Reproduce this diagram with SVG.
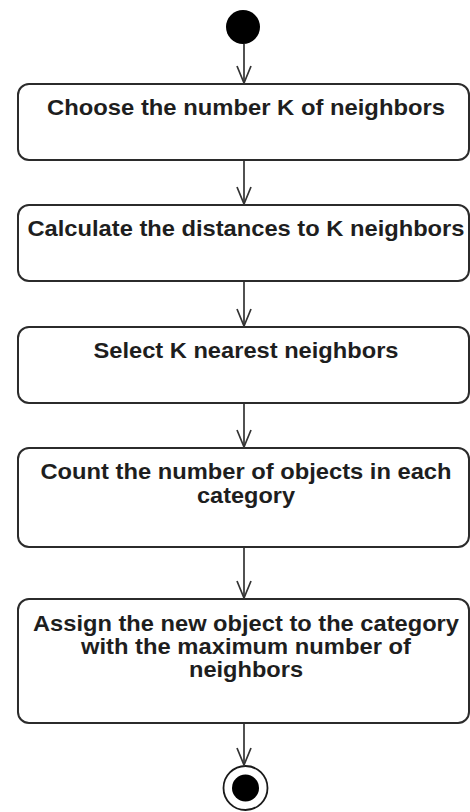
<svg xmlns="http://www.w3.org/2000/svg" width="470" height="812" viewBox="0 0 470 812">
  <style>
    .box { fill: #ffffff; stroke: #2b2b2b; stroke-width: 2; }
    .lbl { font-family: "Liberation Sans", Arial, sans-serif; font-weight: bold; font-size: 22px; fill: #1e1e1e; text-anchor: middle; }
    .flow { fill: none; stroke: #333333; stroke-width: 1.7; marker-end: url(#open); }
  </style>
  <defs>
    <marker id="open" viewBox="0 0 20 16" markerWidth="20" markerHeight="16" refX="18" refY="8" orient="auto" markerUnits="userSpaceOnUse">
      <path d="M1,1 L18,8 L1,15" fill="none" stroke="#333333" stroke-width="1.7"/>
    </marker>
  </defs>

  <rect width="470" height="812" fill="#ffffff"/>

  <!-- initial state -->
  <g id="start">
    <circle cx="243" cy="27" r="17" fill="#000000"/>
  </g>

  <!-- activities -->
  <g id="choose-k">
    <rect class="box" x="18" y="84" width="451" height="76" rx="11" ry="11"/>
    <text class="lbl" x="246" y="115" textLength="398" lengthAdjust="spacingAndGlyphs">Choose the number K of neighbors</text>
  </g>

  <g id="calc-distances">
    <rect class="box" x="18" y="205" width="451" height="76" rx="11" ry="11"/>
    <text class="lbl" x="246" y="236" textLength="437" lengthAdjust="spacingAndGlyphs">Calculate the distances to K neighbors</text>
  </g>

  <g id="select-nearest">
    <rect class="box" x="18" y="327" width="451" height="76" rx="11" ry="11"/>
    <text class="lbl" x="246" y="358" textLength="305" lengthAdjust="spacingAndGlyphs">Select K nearest neighbors</text>
  </g>

  <g id="count-objects">
    <rect class="box" x="18" y="448" width="451" height="99" rx="11" ry="11"/>
    <text class="lbl" x="246" y="479" textLength="411" lengthAdjust="spacingAndGlyphs">Count the number of objects in each</text>
    <text class="lbl" x="246" y="502.5" textLength="98" lengthAdjust="spacingAndGlyphs">category</text>
  </g>

  <g id="assign-category">
    <rect class="box" x="18" y="599" width="451" height="124" rx="11" ry="11"/>
    <text class="lbl" x="246" y="630.5" textLength="426" lengthAdjust="spacingAndGlyphs">Assign the new object to the category</text>
    <text class="lbl" x="246" y="653.5" textLength="330" lengthAdjust="spacingAndGlyphs">with the maximum number of</text>
    <text class="lbl" x="246" y="676.5" textLength="114" lengthAdjust="spacingAndGlyphs">neighbors</text>
  </g>

  <!-- final state -->
  <g id="end">
    <circle cx="245.5" cy="788" r="22" fill="#ffffff" stroke="#1a1a1a" stroke-width="1.8"/>
    <circle cx="245.5" cy="788" r="13.5" fill="#000000"/>
  </g>

  <!-- control flows -->
  <g id="connectors">
    <line class="flow" x1="244" y1="44" x2="244" y2="83"/>
    <line class="flow" x1="244" y1="161" x2="244" y2="204"/>
    <line class="flow" x1="244" y1="282" x2="244" y2="326"/>
    <line class="flow" x1="244" y1="404" x2="244" y2="447"/>
    <line class="flow" x1="244" y1="548" x2="244" y2="598"/>
    <line class="flow" x1="244" y1="724" x2="244" y2="765"/>
  </g>
</svg>
